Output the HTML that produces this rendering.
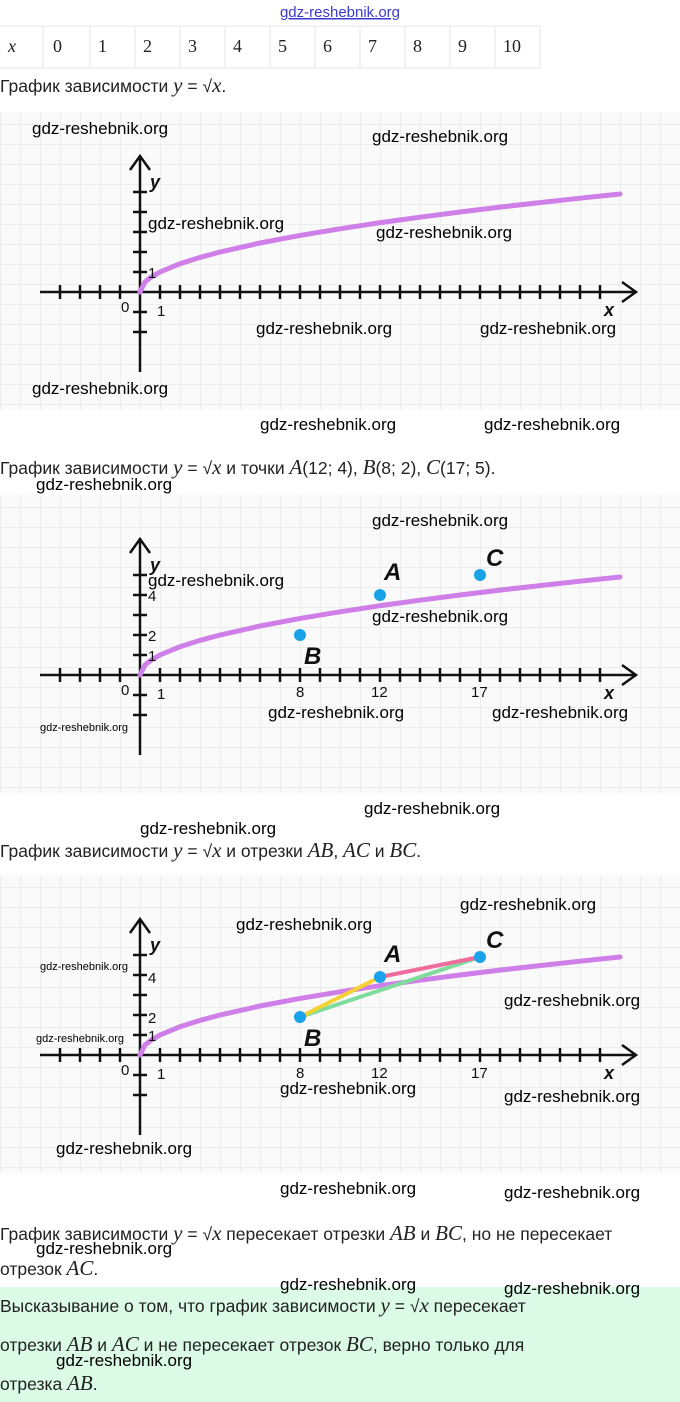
<!DOCTYPE html>
<html><head><meta charset="utf-8"><style>
html,body{margin:0;padding:0;background:#fff;}
body{width:680px;height:1402px;overflow:hidden;position:relative;}
svg{position:absolute;left:0;top:0;}
.t{font-family:"Liberation Sans",sans-serif;font-size:17.5px;fill:#222;}
.m{font-family:"Liberation Serif",serif;font-style:italic;font-size:21px;fill:#222;}
.mr{font-family:"Liberation Serif",serif;font-size:19px;fill:#222;}
.w{font-family:"Liberation Sans",sans-serif;font-size:17px;fill:#000;}
.ws{font-family:"Liberation Sans",sans-serif;font-size:11px;fill:#000;}
.n{font-family:"Liberation Sans",sans-serif;font-size:15px;fill:#111;}
.L{font-family:"Liberation Sans",sans-serif;font-size:24px;font-style:italic;font-weight:bold;fill:#111;}
</style></head><body>
<svg width="680" height="1402" viewBox="0 0 680 1402">
<defs>
<pattern id="g" x="0" y="12" width="20" height="20" patternUnits="userSpaceOnUse">
<path d="M0 0H20M0 0V20" stroke="#e0e0e0" stroke-width="1" fill="none"/>
</pattern>
<g id="graph">
<rect x="0" y="-180" width="680" height="298" fill="#fafafa"/>
<rect x="0" y="-180" width="680" height="298" fill="url(#g)"/>
<g stroke="#111" stroke-width="2.5" fill="none">
<path d="M40 0H634M622 -10L636 0L622 10"/>
<path d="M140 80V-135M130 -122L140 -136L150 -122"/>
<path d="M60 -7V7M80 -7V7M100 -7V7M120 -7V7M160 -7V7M180 -7V7M200 -7V7M220 -7V7M240 -7V7M260 -7V7M280 -7V7M300 -7V7M320 -7V7M340 -7V7M360 -7V7M380 -7V7M400 -7V7M420 -7V7M440 -7V7M460 -7V7M480 -7V7M500 -7V7M520 -7V7M540 -7V7M560 -7V7M580 -7V7M600 -7V7"/>
<path d="M133 -20H147M133 -40H147M133 -60H147M133 -80H147M133 -100H147M133 20H147M133 40H147"/>
</g>
<polyline fill="none" stroke="#cf7fe8" stroke-width="5" stroke-linecap="round" points="140,0 145,-10 150,-14.1 160,-20 180,-28.3 200,-34.6 220,-40 260,-49 300,-56.6 340,-63.2 380,-69.3 420,-74.8 460,-80 500,-84.9 540,-89.4 580,-93.8 620,-98"/>
<text class="n" x="121" y="20">0</text><text class="n" x="157" y="24">1</text>
<text class="n" x="148" y="-14">1</text>
<text class="L" x="150" y="-104" style="font-size:18px">y</text>
<text class="L" x="604" y="24" style="font-size:18px">x</text>
</g>
</defs>

<!-- header -->
<text x="340" y="17" text-anchor="middle" style="font-family:'Liberation Sans',sans-serif;font-size:15px;fill:#3a3ad0;text-decoration:underline">gdz-reshebnik.org</text>
<g stroke="#e6e6e6" fill="none">
<path d="M0 26H540M0 68H540"/>
<path d="M43 26V68M90 26V68M135 26V68M180 26V68M225 26V68M270 26V68M315 26V68M360 26V68M405 26V68M450 26V68M495 26V68M540 26V68"/>
</g>
<g class="mr" style="font-size:18px">
<text class="m" x="8" y="52" style="font-size:18px">x</text>
<text x="53" y="52">0</text><text x="98" y="52">1</text><text x="143" y="52">2</text><text x="188" y="52">3</text><text x="233" y="52">4</text><text x="278" y="52">5</text><text x="323" y="52">6</text><text x="368" y="52">7</text><text x="413" y="52">8</text><text x="458" y="52">9</text><text x="503" y="52">10</text>
</g>
<text class="t" x="0" y="92">График зависимости <tspan class="m">y</tspan> = √<tspan class="m">x</tspan>.</text>

<!-- graph 1 -->
<use href="#graph" transform="translate(0,292)"/>
<text class="w" x="32" y="134">gdz-reshebnik.org</text>
<text class="w" x="372" y="142">gdz-reshebnik.org</text>
<text class="w" x="148" y="229">gdz-reshebnik.org</text>
<text class="w" x="376" y="238">gdz-reshebnik.org</text>
<text class="w" x="256" y="334">gdz-reshebnik.org</text>
<text class="w" x="480" y="334">gdz-reshebnik.org</text>
<text class="w" x="32" y="394">gdz-reshebnik.org</text>
<text class="w" x="260" y="430">gdz-reshebnik.org</text>
<text class="w" x="484" y="430">gdz-reshebnik.org</text>

<text class="t" x="0" y="474">График зависимости <tspan class="m">y</tspan> = √<tspan class="m">x</tspan> и точки <tspan class="m">A</tspan>(12; 4),  <tspan class="m">B</tspan>(8; 2),  <tspan class="m">C</tspan>(17; 5).</text>
<text class="w" x="36" y="490">gdz-reshebnik.org</text>

<!-- graph 2 -->
<use href="#graph" transform="translate(0,675)"/>
<g fill="#1aa3e8"><circle cx="380" cy="595" r="6"/><circle cx="300" cy="635" r="6"/><circle cx="480" cy="575" r="6"/></g>
<text class="L" x="384" y="580">A</text><text class="L" x="304" y="664">B</text><text class="L" x="486" y="566">C</text>
<text class="n" x="148" y="601">4</text><text class="n" x="148" y="641">2</text>
<text class="n" x="296" y="697">8</text><text class="n" x="371" y="697">12</text><text class="n" x="471" y="697">17</text>
<text class="w" x="372" y="526">gdz-reshebnik.org</text>
<text class="w" x="148" y="586">gdz-reshebnik.org</text>
<text class="w" x="372" y="622">gdz-reshebnik.org</text>
<text class="w" x="268" y="718">gdz-reshebnik.org</text>
<text class="w" x="492" y="718">gdz-reshebnik.org</text>
<text class="ws" x="40" y="731">gdz-reshebnik.org</text>
<text class="w" x="364" y="814">gdz-reshebnik.org</text>
<text class="w" x="140" y="834">gdz-reshebnik.org</text>

<text class="t" x="0" y="857">График зависимости <tspan class="m">y</tspan> = √<tspan class="m">x</tspan> и отрезки <tspan class="m">AB</tspan>,  <tspan class="m">AC</tspan> и <tspan class="m">BC</tspan>.</text>

<!-- graph 3 -->
<use href="#graph" transform="translate(0,1055)"/>
<g stroke-width="4" stroke-linecap="round">
<line x1="300" y1="1017" x2="480" y2="957" stroke="#7fdc9c"/>
<line x1="300" y1="1017" x2="380" y2="977" stroke="#f5d132"/>
<line x1="380" y1="977" x2="480" y2="957" stroke="#ee6d9c"/>
</g>
<g fill="#1aa3e8"><circle cx="380" cy="977" r="6"/><circle cx="300" cy="1017" r="6"/><circle cx="480" cy="957" r="6"/></g>
<text class="L" x="384" y="962">A</text><text class="L" x="304" y="1046">B</text><text class="L" x="486" y="948">C</text>
<text class="n" x="148" y="983">4</text><text class="n" x="148" y="1023">2</text>
<text class="n" x="296" y="1078">8</text><text class="n" x="371" y="1078">12</text><text class="n" x="471" y="1078">17</text>
<text class="w" x="460" y="910">gdz-reshebnik.org</text>
<text class="w" x="236" y="930">gdz-reshebnik.org</text>
<text class="ws" x="40" y="970">gdz-reshebnik.org</text>
<text class="w" x="504" y="1006">gdz-reshebnik.org</text>
<text class="ws" x="36" y="1042">gdz-reshebnik.org</text>
<text class="w" x="280" y="1094">gdz-reshebnik.org</text>
<text class="w" x="504" y="1102">gdz-reshebnik.org</text>
<text class="w" x="56" y="1154">gdz-reshebnik.org</text>
<text class="w" x="280" y="1194">gdz-reshebnik.org</text>
<text class="w" x="504" y="1198">gdz-reshebnik.org</text>

<text class="t" x="0" y="1240">График зависимости <tspan class="m">y</tspan> = √<tspan class="m">x</tspan> пересекает отрезки <tspan class="m">AB</tspan> и <tspan class="m">BC</tspan>, но не пересекает</text>
<text class="w" x="36" y="1254">gdz-reshebnik.org</text>
<text class="t" x="0" y="1275">отрезок <tspan class="m">AC</tspan>.</text>

<rect x="0" y="1287" width="680" height="115" fill="#dcfbe6"/>
<text class="w" x="280" y="1290">gdz-reshebnik.org</text>
<text class="w" x="504" y="1294">gdz-reshebnik.org</text>
<text class="t" x="0" y="1312">Высказывание о том, что график зависимости <tspan class="m">y</tspan> = √<tspan class="m">x</tspan> пересекает</text>
<text class="t" x="0" y="1351">отрезки <tspan class="m">AB</tspan> и <tspan class="m">AC</tspan> и не пересекает отрезок <tspan class="m">BC</tspan>, верно только для</text>
<text class="w" x="56" y="1366">gdz-reshebnik.org</text>
<text class="t" x="0" y="1390">отрезка <tspan class="m">AB</tspan>.</text>
</svg>
</body></html>
